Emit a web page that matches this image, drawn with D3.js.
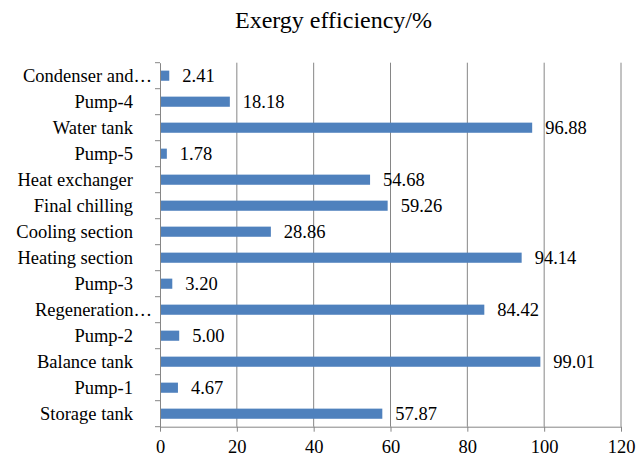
<!DOCTYPE html>
<html><head><meta charset="utf-8">
<script src="https://cdn.jsdelivr.net/npm/d3@7"></script>
<style>body{margin:0;background:#fff}svg{display:block}svg text{font-family:"Liberation Serif","Times New Roman",serif !important}</style>
</head><body><svg id="c" width="637" height="460"></svg>
<script>
const categories = ["Storage tank","Pump-1","Balance tank","Pump-2","Regeneration…","Pump-3","Heating section","Cooling section","Final chilling","Heat exchanger","Pump-5","Water tank","Pump-4","Condenser and…"];
const values = [57.87,4.67,99.01,5.00,84.42,3.20,94.14,28.86,59.26,54.68,1.78,96.88,18.18,2.41];
const xTicks = [0,20,40,60,80,100,120];
const title = "Exergy efficiency/%";

const svg = d3.select("#c");
const L = 160, R = 621, T = 62.7, B = 426.7;
const x = d3.scaleLinear().domain([0,120]).range([L,R]);
const y = d3.scaleBand().domain(categories.slice().reverse()).range([T,B]).paddingInner(0.61).paddingOuter(0.305);
const yb = d3.scaleBand().domain(categories.slice().reverse()).range([T,B]);

svg.append("text").attr("x",333.5).attr("y",28).attr("text-anchor","middle")
  .style("font-size","24px").attr("fill","#000").text(title);

// gridlines
svg.append("g").selectAll("line").data(xTicks.slice(1)).join("line")
  .attr("x1",d=>x(d)).attr("x2",d=>x(d)).attr("y1",T).attr("y2",B)
  .attr("stroke","#868686").attr("stroke-width",1);

// bars
svg.append("g").selectAll("rect").data(categories).join("rect")
  .attr("x",x(0)).attr("y",d=>y(d)).attr("height",y.bandwidth())
  .attr("width",(d,i)=>x(values[i])-x(0)).attr("fill","#4F81BD");

// value labels
svg.append("g").selectAll("text").data(categories).join("text")
  .attr("x",(d,i)=>x(values[i])+13).attr("y",d=>y(d)+y.bandwidth()/2).attr("dy","0.35em")
  .style("font-size","18.5px").attr("fill","#000")
  .text((d,i)=>values[i].toFixed(2));

// x axis
const xa = svg.append("g").attr("transform",`translate(0,${B})`)
  .call(d3.axisBottom(x).tickValues(xTicks).tickSize(5).tickPadding(8).tickSizeOuter(0));
xa.select(".domain").attr("stroke","#868686");
xa.selectAll(".tick line").attr("stroke","#868686");
xa.selectAll("text").style("font-size","18.5px").attr("fill","#000");

// y axis
const ya = svg.append("g").attr("transform",`translate(${L},0)`)
  .call(d3.axisLeft(yb).tickSize(0).tickSizeOuter(0).tickFormat(""));
ya.select(".domain").attr("stroke","#868686");
ya.selectAll(".tick").remove();
const bounds = [T].concat(categories.slice().reverse().map(c=>yb(c)+yb.bandwidth()));
svg.append("g").selectAll("line").data(bounds).join("line")
  .attr("x1",L-5).attr("x2",L).attr("y1",d=>d).attr("y2",d=>d)
  .attr("stroke","#868686");
svg.append("g").selectAll("text").data(categories).join("text")
  .attr("x",d=>d.endsWith("…")?152:133).attr("y",d=>yb(d)+yb.bandwidth()/2).attr("dy","0.35em")
  .attr("text-anchor","end").style("font-size","18.5px").attr("fill","#000")
  .text(d=>d);
</script></body></html>
